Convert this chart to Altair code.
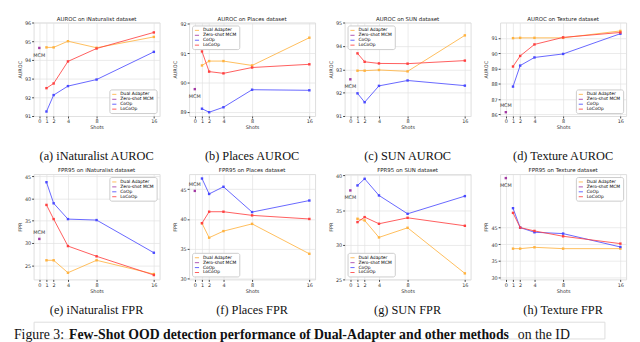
import altair as alt
import pandas as pd

SHOTS = [1, 2, 4, 8, 16]
X_TICKS = [0, 1, 2, 4, 8, 16]
METHODS = ["Dual Adapter", "Zero-shot MCM", "CoOp", "LoCoOp"]
COLORS = ["#ffb23f", "#a33aa3", "#4a4aff", "#ff4040"]

# Row 1: AUROC
INAT_AUROC_DUAL = [94.67, 94.67, 95.0, 94.65, 95.23]
INAT_AUROC_COOP = [91.24, 92.12, 92.6, 92.95, 94.43]
INAT_AUROC_LOCOOP = [92.49, 92.74, 93.92, 94.61, 95.47]
INAT_AUROC_MCM = 94.64

PLACES_AUROC_DUAL = [90.58, 90.73, 90.73, 90.58, 91.53]
PLACES_AUROC_COOP = [89.10, 88.98, 89.15, 89.75, 89.73]
PLACES_AUROC_LOCOOP = [91.06, 90.37, 90.31, 90.51, 90.62]
PLACES_AUROC_MCM = 89.77

SUN_AUROC_DUAL = [92.94, 92.94, 92.97, 92.91, 94.45]
SUN_AUROC_COOP = [91.97, 91.59, 92.29, 92.52, 92.30]
SUN_AUROC_LOCOOP = [93.68, 93.32, 93.25, 93.24, 93.37]
SUN_AUROC_MCM = 92.57

TEX_AUROC_DUAL = [90.98, 91.0, 91.0, 91.0, 91.45]
TEX_AUROC_COOP = [87.82, 89.19, 89.72, 89.95, 91.27]
TEX_AUROC_LOCOOP = [89.13, 89.82, 90.57, 91.03, 91.35]
TEX_AUROC_MCM = 86.15

# Row 2: FPR95
INAT_FPR_DUAL = [26.1, 26.1, 23.3, 26.1, 23.0]
INAT_FPR_COOP = [43.67, 38.93, 35.37, 35.15, 27.8]
INAT_FPR_LOCOOP = [38.56, 35.37, 29.3, 27.0, 22.78]
INAT_FPR_MCM = 30.91

PLACES_FPR_DUAL = [39.29, 36.87, 37.97, 39.18, 34.18]
PLACES_FPR_COOP = [46.76, 44.18, 45.38, 41.15, 43.08]
PLACES_FPR_LOCOOP = [39.29, 41.21, 41.21, 40.6, 40.0]
PLACES_FPR_MCM = 44.69

SUN_FPR_DUAL = [33.75, 33.51, 31.06, 32.45, 25.87]
SUN_FPR_COOP = [38.56, 39.52, 37.12, 34.47, 37.02]
SUN_FPR_LOCOOP = [33.27, 33.99, 33.03, 33.89, 32.74]
SUN_FPR_MCM = 37.84

TEX_FPR_DUAL = [38.7, 38.7, 39.1, 38.7, 38.7]
TEX_FPR_COOP = [50.8, 45.0, 43.6, 43.2, 39.2]
TEX_FPR_LOCOOP = [49.4, 45.0, 44.0, 42.4, 40.2]
TEX_FPR_MCM = 59.8

CAPTION_PARTS = ["Figure 3:", "Few-Shot OOD detection performance of Dual-Adapter and other methods", "on the ID"]

W = 128
FONT = "DejaVu Sans"
SERIF = "Liberation Serif"


def panel(title, ytitle, caption, dual, coop, locoop, mcm, ydom, yticks,
          legend_orient, mcm_dy, H, cap_offset):
    rows = []
    for m, vals in (("Dual Adapter", dual), ("CoOp", coop), ("LoCoOp", locoop)):
        for s, v in zip(SHOTS, vals):
            rows.append({"shots": s, "value": v, "method": m})
    rows.append({"shots": 0, "value": mcm, "method": "Zero-shot MCM"})
    df = pd.DataFrame(rows)

    x = alt.X("shots:Q",
              scale=alt.Scale(domain=[-0.8, 16.8], nice=False, zero=False),
              axis=alt.Axis(values=X_TICKS, title="Shots", labelFontSize=5,
                            titleFontSize=5, titleFontWeight="normal",
                            titlePadding=1, labelPadding=1, tickSize=2,
                            gridColor="#e2e2e2", gridWidth=0.7, domain=False,
                            tickColor="#444", labelColor="#333", titleColor="#333"))
    y = alt.Y("value:Q",
              scale=alt.Scale(domain=ydom, nice=False, zero=False),
              axis=alt.Axis(values=yticks, title=ytitle, labelFontSize=5,
                            titleFontSize=5, titleFontWeight="normal",
                            titlePadding=2, labelPadding=1, tickSize=2,
                            gridColor="#e2e2e2", gridWidth=0.7, domain=False,
                            tickColor="#444", labelColor="#333", titleColor="#333"))
    color = alt.Color("method:N",
                      scale=alt.Scale(domain=METHODS, range=COLORS),
                      sort=METHODS,
                      legend=alt.Legend(title=None, orient=legend_orient,
                                        labelFontSize=4.5, symbolSize=18,
                                        symbolStrokeWidth=1, symbolType="stroke",
                                        fillColor="white", strokeColor="#cccccc",
                                        padding=2, rowPadding=-1, offset=3,
                                        labelOffset=3, labelLimit=90, cornerRadius=2))

    lines = alt.Chart(df).mark_line(
        strokeWidth=1, opacity=0.85,
        point=alt.OverlayMarkDef(filled=True, size=6, shape="square")
    ).encode(x=x, y=y, color=color)

    lab = alt.Chart(pd.DataFrame({"shots": [0], "value": [mcm], "t": ["MCM"]})).mark_text(
        fontSize=5, dy=mcm_dy, font=FONT, color="#333"
    ).encode(x=x, y=y, text="t:N")

    ttl = alt.Chart(pd.DataFrame({"t": [title]})).mark_text(
        fontSize=5.5, baseline="bottom", font=FONT, color="#222"
    ).encode(x=alt.value(W / 2), y=alt.value(-1), text="t:N")

    return alt.layer(lines, lab, ttl).properties(
        width=W, height=H,
        title=alt.TitleParams(caption, orient="bottom", font=SERIF, fontSize=12.5,
                              fontWeight="normal", color="#111", offset=cap_offset)
    )


H1, H2 = 95, 107
O1, O2 = 21, 11

row1 = alt.hconcat(
    panel("AUROC on iNaturalist dataset", "AUROC", "(a) iNaturalist AUROC",
          INAT_AUROC_DUAL, INAT_AUROC_COOP, INAT_AUROC_LOCOOP, INAT_AUROC_MCM,
          [91, 96], [91, 92, 93, 94, 95, 96], "bottom-right", 7, H1, O1),
    panel("AUROC on Places dataset", "AUROC", "(b) Places AUROC",
          PLACES_AUROC_DUAL, PLACES_AUROC_COOP, PLACES_AUROC_LOCOOP, PLACES_AUROC_MCM,
          [88.85, 92.05], [89, 90, 91, 92], "top-left", 7, H1, O1),
    panel("AUROC on SUN dataset", "AUROC", "(c) SUN AUROC",
          SUN_AUROC_DUAL, SUN_AUROC_COOP, SUN_AUROC_LOCOOP, SUN_AUROC_MCM,
          [91, 95], [91, 92, 93, 94, 95], "top-left", 7, H1, O1),
    panel("AUROC on Texture dataset", "AUROC", "(d) Texture AUROC",
          TEX_AUROC_DUAL, TEX_AUROC_COOP, TEX_AUROC_LOCOOP, TEX_AUROC_MCM,
          [85.9, 92.0], [86, 87, 88, 89, 90, 91], "bottom-right", -7, H1, O1),
    spacing=12,
).resolve_scale(color="independent")

row2 = alt.hconcat(
    panel("FPR95 on iNaturalist dataset", "FPR", "(e) iNaturalist FPR",
          INAT_FPR_DUAL, INAT_FPR_COOP, INAT_FPR_LOCOOP, INAT_FPR_MCM,
          [21.8, 45.5], [25, 30, 35, 40, 45], "top-right", -7, H2, O2),
    panel("FPR95 on Places dataset", "FPR", "(f) Places FPR",
          PLACES_FPR_DUAL, PLACES_FPR_COOP, PLACES_FPR_LOCOOP, PLACES_FPR_MCM,
          [29.9, 47.5], [30, 35, 40, 45], "bottom-left", -7, H2, O2),
    panel("FPR95 on SUN dataset", "FPR", "(g) SUN FPR",
          SUN_FPR_DUAL, SUN_FPR_COOP, SUN_FPR_LOCOOP, SUN_FPR_MCM,
          [25, 40.2], [25, 30, 35, 40], "bottom-left", 7, H2, O2),
    panel("FPR95 on Texture dataset", "FPR", "(h) Texture FPR",
          TEX_FPR_DUAL, TEX_FPR_COOP, TEX_FPR_LOCOOP, TEX_FPR_MCM,
          [29.5, 61.0], [30, 35, 40, 45], "top-right", 7, H2, O2),
    spacing=12,
).resolve_scale(color="independent")

cap_df = pd.DataFrame({"t": CAPTION_PARTS})
cap1 = alt.Chart(cap_df.iloc[[0]]).mark_text(
    font=SERIF, fontSize=14, align="left", baseline="middle", color="#111"
).encode(x=alt.value(-20), y=alt.value(14), text="t:N")
cap2 = alt.Chart(cap_df.iloc[[1]]).mark_text(
    font=SERIF, fontSize=14, fontWeight="bold", align="left", baseline="middle", color="#111"
).encode(x=alt.value(36), y=alt.value(14), text="t:N")
cap3 = alt.Chart(cap_df.iloc[[2]]).mark_text(
    font=SERIF, fontSize=14, align="left", baseline="middle", color="#111"
).encode(x=alt.value(492), y=alt.value(14), text="t:N")
caption = alt.layer(cap1, cap2, cap3).properties(width=580, height=17)

chart = alt.vconcat(row1, row2, caption, spacing=4).resolve_scale(
    color="independent"
).configure_view(
    stroke="#555", strokeWidth=0.7
).configure(
    font=FONT
)

chart.save("out.html", embed_options={"renderer": "svg", "actions": False})
